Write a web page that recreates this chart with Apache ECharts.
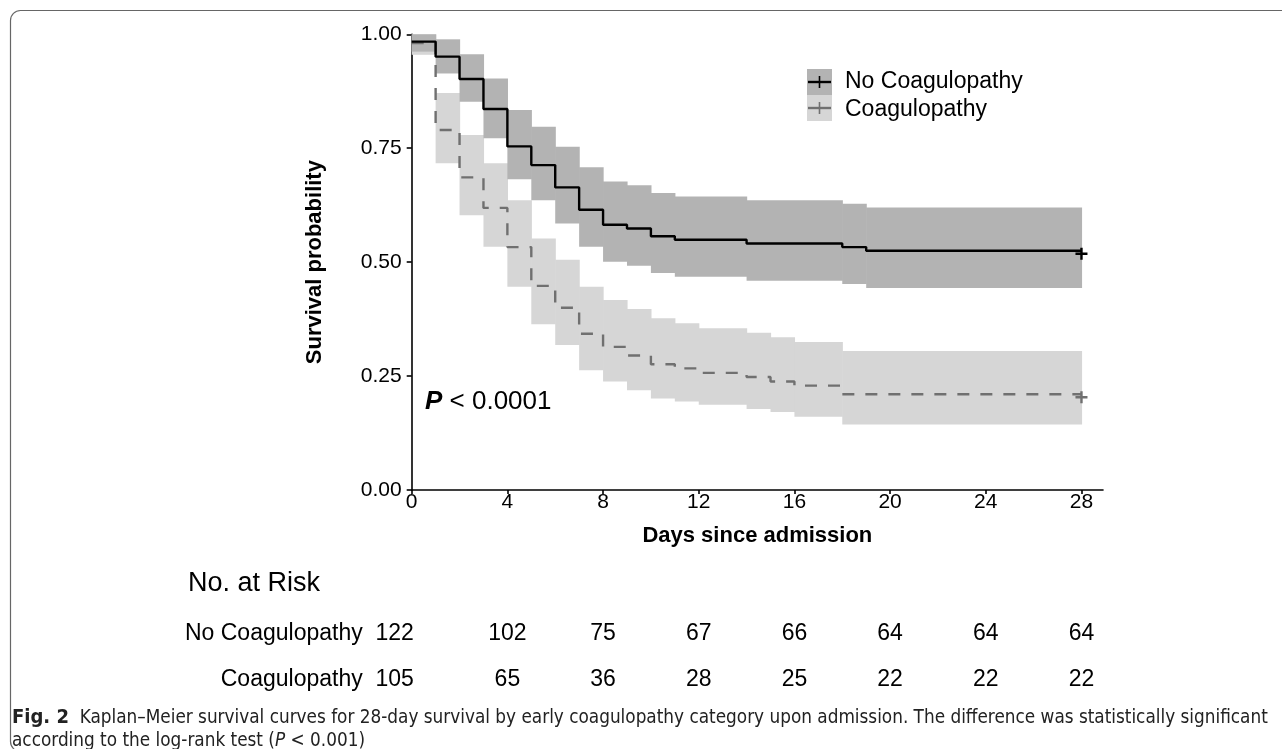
<!DOCTYPE html>
<html>
<head>
<meta charset="utf-8">
<title>Kaplan–Meier survival curves by coagulopathy</title>
<script src="https://cdn.jsdelivr.net/npm/echarts@6/dist/echarts.min.js"></script>
<style>
html, body { margin: 0; padding: 0; background: #fff; }
#chart { width: 1282px; height: 749px; }
</style>
</head>
<body>
<div id="chart"></div>
<script>
// step times (days) and KM estimates
var noCoagDays  = [0, 1, 2, 3, 4, 5, 6, 7, 8, 9, 10, 11, 14, 18, 19, 28];
var noCoagSurv  = [0.984, 0.951, 0.902, 0.836, 0.754, 0.713, 0.664, 0.615, 0.582, 0.574, 0.557, 0.549, 0.541, 0.533, 0.525, 0.525];
var noCoagUpper = [1.000, 0.989, 0.956, 0.903, 0.834, 0.797, 0.753, 0.708, 0.677, 0.669, 0.652, 0.644, 0.636, 0.628, 0.620, 0.620];
var noCoagLower = [0.962, 0.914, 0.852, 0.772, 0.682, 0.636, 0.585, 0.534, 0.501, 0.492, 0.476, 0.468, 0.459, 0.452, 0.443, 0.443];

var coagDays  = [0, 1, 2, 3, 4, 5, 6, 7, 8, 9, 10, 11, 12, 14, 15, 16, 18, 28];
var coagSurv  = [0.981, 0.790, 0.686, 0.619, 0.533, 0.448, 0.400, 0.343, 0.314, 0.295, 0.276, 0.267, 0.257, 0.248, 0.238, 0.229, 0.210, 0.210];
var coagUpper = [1.000, 0.871, 0.779, 0.717, 0.636, 0.552, 0.505, 0.446, 0.417, 0.397, 0.377, 0.366, 0.355, 0.345, 0.335, 0.325, 0.305, 0.305];
var coagLower = [0.955, 0.717, 0.603, 0.534, 0.446, 0.364, 0.318, 0.263, 0.238, 0.219, 0.201, 0.194, 0.187, 0.178, 0.171, 0.161, 0.144, 0.144];

var groups = ['No Coagulopathy', 'Coagulopathy'];
var riskDays = [0, 4, 8, 12, 16, 20, 24, 28];
var riskNoCoag = [122, 102, 75, 67, 66, 64, 64, 64];
var riskCoag = [105, 65, 36, 28, 25, 22, 22, 22];
var xTicks = [0, 4, 8, 12, 16, 20, 24, 28];

var FONT = 'Liberation Sans, Arial, sans-serif';
var CAPFONT = "'Liberation Sans Narrow', 'DejaVu Sans Condensed', sans-serif";
var DARK = '#b3b3b3', LIGHT = '#d6d6d6', DASH = '#707070';
var PLUS = 'path://M4,0 H6 V4 H10 V6 H6 V10 H4 V6 H0 V4 H4 Z';

function pairs(days, vals) {
    return days.map(function (d, i) { return [d, vals[i]]; });
}
// one rectangle per step: [from, to, lower, upper]
function steps(days, lo, up) {
    var out = [];
    for (var i = 0; i < days.length - 1; i++) {
        out.push([days[i], days[i + 1], lo[i], up[i]]);
    }
    return out;
}
function band(data, color) {
    return {
        type: 'custom', silent: true, data: data,
        encode: { x: [0, 1], y: [2, 3] },
        renderItem: function (params, api) {
            var a = api.coord([api.value(0), api.value(3)]);
            var b = api.coord([api.value(1), api.value(2)]);
            return {
                type: 'rect',
                shape: { x: a[0], y: a[1], width: b[0] - a[0] + 0.6, height: b[1] - a[1] },
                style: { fill: color }
            };
        }
    };
}
function riskRow(row, counts) {
    return riskDays.map(function (d, i) {
        var item = { value: [d, row, counts[i]] };
        if (i === 0) item.label = { offset: [-17, 0] };
        return item;
    });
}

var myChart = echarts.init(document.getElementById('chart'));

var option = {
    animation: false,
    backgroundColor: '#fff',
    textStyle: { fontFamily: FONT },
    grid: [
        { left: 411.7, right: 179, top: 34.3, height: 455.7 },
        { left: 411.7, right: 179, top: 611, height: 92 }
    ],
    xAxis: [
        {
            type: 'value', gridIndex: 0, min: 0, max: 28.9,
            name: 'Days since admission', nameLocation: 'middle', nameGap: 35,
            nameTextStyle: { fontSize: 22, fontWeight: 'bold', color: '#000', fontFamily: FONT },
            axisLine: { show: true, onZero: false, lineStyle: { color: '#000', width: 1.6 } },
            axisTick: { show: true, length: 4, customValues: xTicks, lineStyle: { color: '#000', width: 1.6 } },
            axisLabel: { customValues: xTicks, fontSize: 21, color: '#000', margin: 2, fontFamily: FONT },
            splitLine: { show: false }
        },
        { type: 'value', gridIndex: 1, min: 0, max: 28.9, show: false }
    ],
    yAxis: [
        {
            type: 'value', gridIndex: 0, min: 0, max: 1, interval: 0.25,
            name: 'Survival probability', nameLocation: 'middle', nameGap: 86,
            nameTextStyle: { fontSize: 22, fontWeight: 'bold', color: '#000', fontFamily: FONT },
            axisLine: { show: true, lineStyle: { color: '#000', width: 1.6 } },
            axisTick: { show: true, length: 5, lineStyle: { color: '#000', width: 1.6 } },
            axisLabel: { fontSize: 21, color: '#000', margin: 10, fontFamily: FONT,
                formatter: function (v) { return v.toFixed(2); } },
            splitLine: { show: false }
        },
        {
            type: 'category', gridIndex: 1, data: groups, inverse: true,
            axisLine: { show: false }, axisTick: { show: false }, splitLine: { show: false },
            axisLabel: { fontSize: 23, color: '#000', margin: 49, fontFamily: FONT }
        }
    ],
    series: [
        band(steps(coagDays, coagLower, coagUpper), LIGHT),
        band(steps(noCoagDays, noCoagLower, noCoagUpper), DARK),
        {
            name: groups[1], type: 'line', step: 'end', data: pairs(coagDays, coagSurv),
            symbol: 'none', lineStyle: { color: DASH, width: 2.4, type: [12, 11] }
        },
        {
            name: groups[0], type: 'line', step: 'end', data: pairs(noCoagDays, noCoagSurv),
            symbol: 'none', lineStyle: { color: '#000', width: 2.4 }
        },
        {
            type: 'scatter', symbol: PLUS, symbolSize: 12, symbolOffset: [0, 3],
            itemStyle: { color: DASH, opacity: 1 },
            data: [[coagDays[coagDays.length - 1], coagSurv[coagSurv.length - 1]]]
        },
        {
            type: 'scatter', symbol: PLUS, symbolSize: 12, symbolOffset: [0, 3],
            itemStyle: { color: '#000', opacity: 1 },
            data: [[noCoagDays[noCoagDays.length - 1], noCoagSurv[noCoagSurv.length - 1]]]
        },
        {
            type: 'scatter', xAxisIndex: 1, yAxisIndex: 1, symbolSize: 0, silent: true,
            itemStyle: { color: '#000', opacity: 1 },
            data: riskRow(0, riskNoCoag).concat(riskRow(1, riskCoag)),
            encode: { x: 0, y: 1 },
            label: {
                show: true, position: 'inside', fontSize: 23, color: '#000', fontFamily: FONT,
                textBorderWidth: 0, opacity: 1,
                formatter: function (p) { return p.value[2]; }
            }
        }
    ],
    graphic: [
        {
            type: 'rect', silent: true, z: 100,
            shape: { x: 10.5, y: 10.5, width: 1290, height: 741, r: 10 },
            style: { fill: 'none', stroke: '#666', lineWidth: 1.2 }
        },
        // legend
        { type: 'rect', z: 100, shape: { x: 807, y: 69, width: 25, height: 26 }, style: { fill: DARK } },
        { type: 'rect', z: 100, shape: { x: 807, y: 95, width: 25, height: 26 }, style: { fill: LIGHT } },
        { type: 'line', z: 101, shape: { x1: 808, y1: 82, x2: 831, y2: 82 }, style: { stroke: '#000', lineWidth: 2.4 } },
        { type: 'line', z: 101, shape: { x1: 819.5, y1: 76, x2: 819.5, y2: 88 }, style: { stroke: '#000', lineWidth: 1.6 } },
        { type: 'line', z: 101, shape: { x1: 808, y1: 108, x2: 831, y2: 108 }, style: { stroke: DASH, lineWidth: 2.4 } },
        { type: 'line', z: 101, shape: { x1: 819.5, y1: 102, x2: 819.5, y2: 114 }, style: { stroke: DASH, lineWidth: 1.6 } },
        { type: 'text', z: 100, x: 845, y: 82, style: { text: groups[0], font: '23px ' + FONT, fill: '#000', verticalAlign: 'middle' } },
        { type: 'text', z: 100, x: 845, y: 110, style: { text: groups[1], font: '23px ' + FONT, fill: '#000', verticalAlign: 'middle' } },
        // p-value
        {
            type: 'text', z: 100, x: 425, y: 402,
            style: {
                text: '{p|P} < 0.0001', verticalAlign: 'middle', fill: '#000', font: '26px ' + FONT,
                rich: { p: { fontStyle: 'italic', fontWeight: 'bold', fontSize: 26, fontFamily: FONT } }
            }
        },
        // risk table title
        { type: 'text', z: 100, x: 188, y: 584, style: { text: 'No. at Risk', font: '27px ' + FONT, fill: '#000', verticalAlign: 'middle' } },
        // caption
        {
            type: 'text', z: 100, x: 12, y: 718,
            style: {
                text: '{b|Fig. 2}  Kaplan–Meier survival curves for 28-day survival by early coagulopathy category upon admission. The difference was statistically significant',
                font: '18.8px ' + CAPFONT, fill: '#222', verticalAlign: 'middle',
                rich: { b: { fontWeight: 'bold', fontSize: 20, fontFamily: CAPFONT } }
            }
        },
        {
            type: 'text', z: 100, x: 12, y: 741,
            style: {
                text: 'according to the log-rank test ({i|P} < 0.001)',
                font: '18.8px ' + CAPFONT, fill: '#222', verticalAlign: 'middle',
                rich: { i: { fontStyle: 'italic', fontSize: 18.8, fontFamily: CAPFONT } }
            }
        }
    ]
};

myChart.setOption(option);
window.addEventListener('resize', function () {
    myChart.resize();
});
</script>
</body>
</html>
